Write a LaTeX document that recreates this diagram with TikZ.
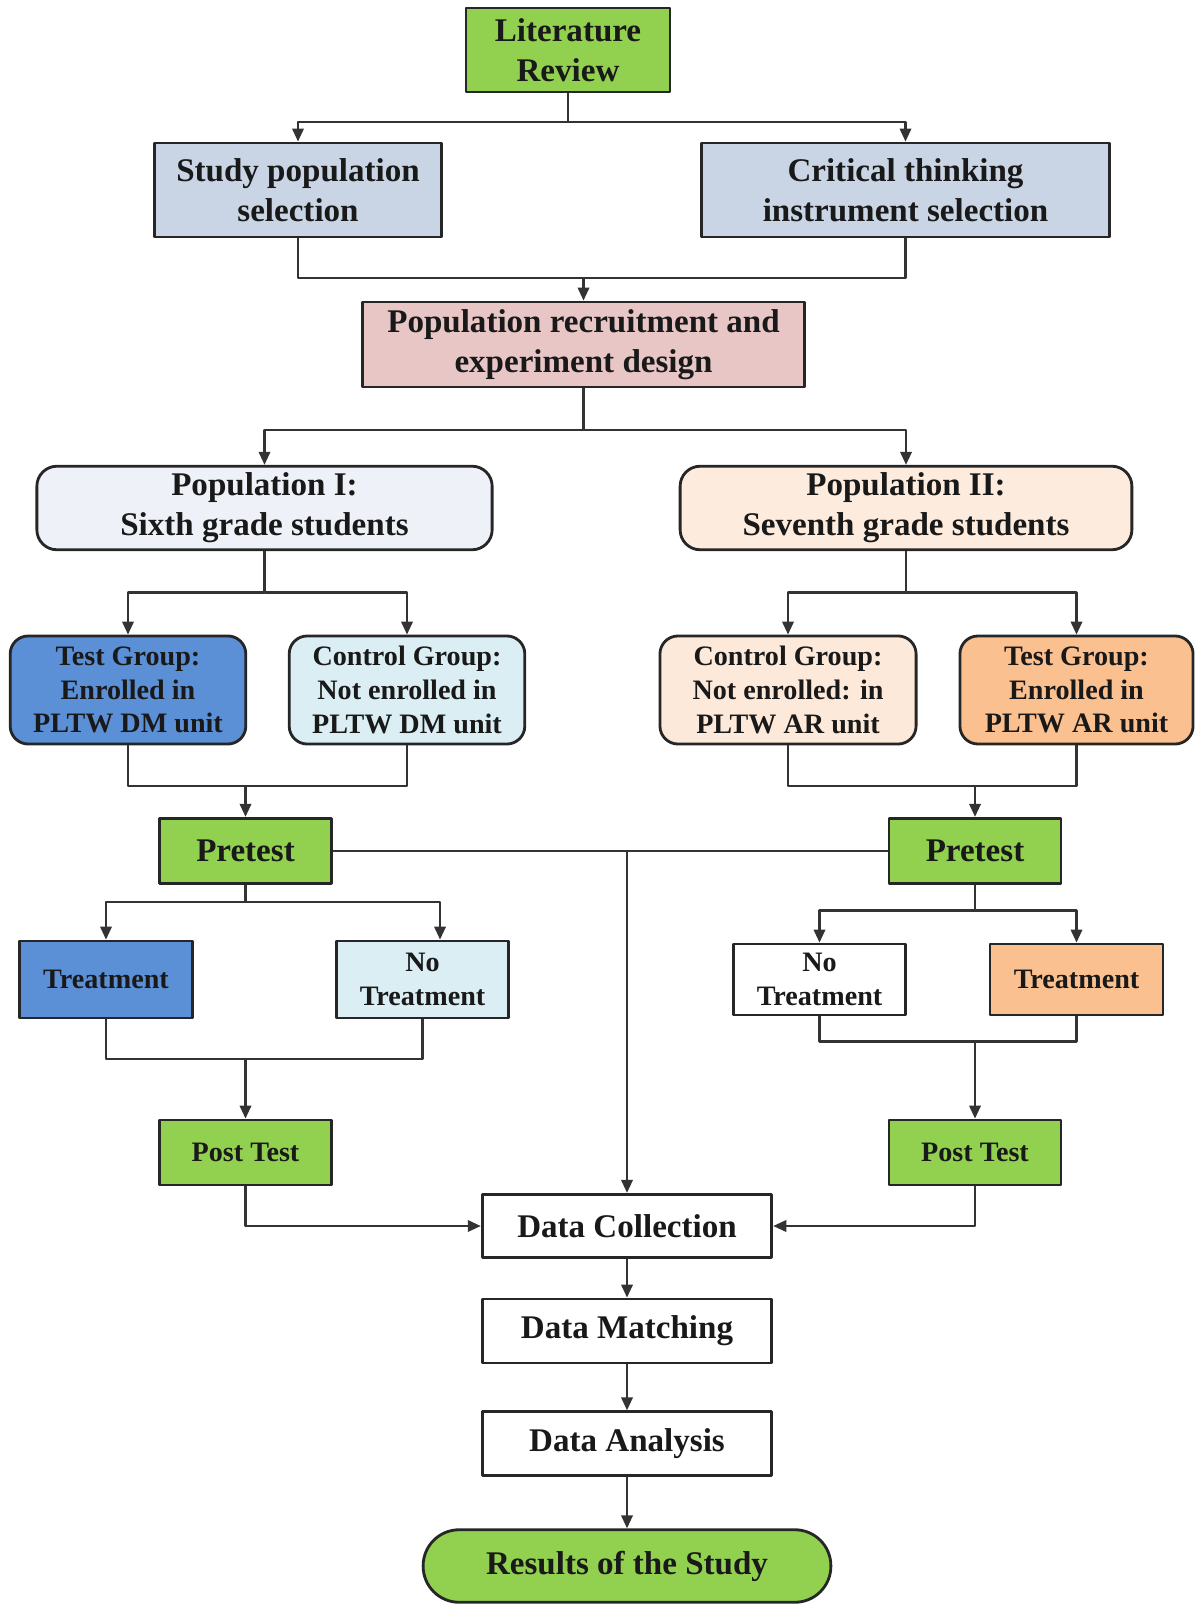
\documentclass[tikz,border=0pt]{standalone}
\usepackage{fontspec}
\setmainfont{Liberation Serif}
\usetikzlibrary{arrows.meta}
\definecolor{litgreen}{RGB}{146,208,80}
\definecolor{selblue}{RGB}{201,213,228}
\definecolor{recpink}{RGB}{232,198,198}
\definecolor{popblue}{RGB}{238,242,248}
\definecolor{poppeach}{RGB}{253,236,222}
\definecolor{dmblue}{RGB}{91,143,214}
\definecolor{dmcyan}{RGB}{218,238,243}
\definecolor{arpeach}{RGB}{253,233,217}
\definecolor{arorange}{RGB}{250,192,143}
\begin{document}
\begin{tikzpicture}[x=0.01cm, y=-0.01cm, >={Triangle[length=1.3mm,width=1.15mm]}, line join=round,
  box/.style={draw=black!85, line width=0.8pt, align=center, inner sep=0pt, text=black!90,
    font=\bfseries\fontsize{9.4}{11.4}\selectfont},
  sbox/.style={box, font=\bfseries\fontsize{8}{9.6}\selectfont},
  link/.style={draw=black!80, line width=0.6pt}]
\useasboundingbox (0,0) rectangle (1195,1604);
\node[box, fill=litgreen, minimum width=2.04cm, minimum height=0.84cm] (lit) at (568,50) {Literature\\Review};
\node[box, fill=selblue, minimum width=2.875cm, minimum height=0.94cm] (studysel) at (298,190) {Study population\\selection};
\node[box, fill=selblue, minimum width=4.07cm, minimum height=0.94cm] (instsel) at (905.5,190) {Critical thinking\\instrument selection};
\node[box, fill=recpink, minimum width=4.41cm, minimum height=0.85cm] (recruit) at (583.5,344.5) {Population recruitment and\\experiment design};
\node[box, fill=popblue, rounded corners=0.2cm, minimum width=4.55cm, minimum height=0.835cm] (popone) at (264.5,508) {Population I:\\Sixth grade students};
\node[box, fill=poppeach, rounded corners=0.2cm, minimum width=4.515cm, minimum height=0.835cm] (poptwo) at (906,508) {Population II:\\Seventh grade students};
\node[sbox, fill=dmblue, rounded corners=0.18cm, minimum width=2.355cm, minimum height=1.08cm] (testdm) at (128,690) {Test Group:\\Enrolled in\\PLTW DM unit};
\node[sbox, fill=dmcyan, rounded corners=0.18cm, minimum width=2.355cm, minimum height=1.08cm] (ctrldm) at (407,690) {Control Group:\\Not enrolled in\\PLTW DM unit};
\node[sbox, fill=arpeach, rounded corners=0.18cm, minimum width=2.56cm, minimum height=1.08cm] (ctrlar) at (788,690) {Control Group:\\Not enrolled: in\\PLTW AR unit};
\node[sbox, fill=arorange, rounded corners=0.18cm, minimum width=2.33cm, minimum height=1.08cm] (testar) at (1076.5,690) {Test Group:\\Enrolled in\\PLTW AR unit};
\node[box, fill=litgreen, minimum width=1.72cm, minimum height=0.655cm] (preone) at (245.5,851) {Pretest};
\node[box, fill=litgreen, minimum width=1.72cm, minimum height=0.655cm] (pretwo) at (975,851) {Pretest};
\node[sbox, fill=dmblue, minimum width=1.725cm, minimum height=0.77cm] (treatone) at (106,979.5) {Treatment};
\node[sbox, fill=dmcyan, minimum width=1.72cm, minimum height=0.77cm] (notreatone) at (422.5,979.5) {No\\Treatment};
\node[sbox, fill=white, minimum width=1.72cm, minimum height=0.71cm] (notreattwo) at (819.5,979.5) {No\\Treatment};
\node[sbox, fill=arorange, minimum width=1.73cm, minimum height=0.71cm] (treattwo) at (1076.5,979.5) {Treatment};
\node[sbox, fill=litgreen, minimum width=1.72cm, minimum height=0.65cm] (postone) at (245.5,1152.5) {Post Test};
\node[sbox, fill=litgreen, minimum width=1.72cm, minimum height=0.65cm] (posttwo) at (975,1152.5) {Post Test};
\node[box, fill=white, minimum width=2.895cm, minimum height=0.635cm] (collect) at (627,1226) {Data Collection};
\node[box, fill=white, minimum width=2.895cm, minimum height=0.64cm] (match) at (627,1331) {Data Matching};
\node[box, fill=white, minimum width=2.895cm, minimum height=0.635cm] (analysis) at (627,1443.5) {Data Analysis};
\node[box, fill=litgreen, rounded corners=0.36cm, minimum width=4.075cm, minimum height=0.725cm] (results) at (627,1566) {Results of the Study};
\coordinate (s1) at (568,122);
\coordinate (m1) at (583.5,278);
\coordinate (s2) at (583.5,430);
\coordinate (s3) at (264.5,592.5);
\coordinate (s4) at (906,592.5);
\coordinate (m2) at (245.5,786);
\coordinate (m3) at (975,786);
\coordinate (s5) at (245.5,902);
\coordinate (s6) at (975,910.5);
\coordinate (m4) at (245.5,1059);
\coordinate (m5) at (975,1041.5);
\coordinate (j) at (627,851);
\draw[link,->] (lit.south) -- (s1) -| (studysel.north);
\draw[link,->] (s1) -| (instsel.north);
\draw[link] (studysel.south) |- (m1) -| (instsel.south);
\draw[link,->] (m1) -- (recruit.north);
\draw[link,->] (recruit.south) -- (s2) -| (popone.north);
\draw[link,->] (s2) -| (poptwo.north);
\draw[link,->] (popone.south) -- (s3) -| (testdm.north);
\draw[link,->] (s3) -| (ctrldm.north);
\draw[link,->] (poptwo.south) -- (s4) -| (ctrlar.north);
\draw[link,->] (s4) -| (testar.north);
\draw[link] (testdm.south) |- (m2) -| (ctrldm.south);
\draw[link,->] (m2) -- (preone.north);
\draw[link] (ctrlar.south) |- (m3) -| (testar.south);
\draw[link,->] (m3) -- (pretwo.north);
\draw[link,->] (preone.south) -- (s5) -| (treatone.north);
\draw[link,->] (s5) -| ([xshift=0.175cm]notreatone.north);
\draw[link,->] (pretwo.south) -- (s6) -| (notreattwo.north);
\draw[link,->] (s6) -| (treattwo.north);
\draw[link] (treatone.south) |- (m4) -| (notreatone.south);
\draw[link,->] (m4) -- (postone.north);
\draw[link] (notreattwo.south) |- (m5) -| (treattwo.south);
\draw[link,->] (m5) -- (posttwo.north);
\draw[link] (preone.east) -- (pretwo.west);
\draw[link,->] (j) -- (collect.north);
\draw[link,->] (postone.south) |- (collect.west);
\draw[link,->] (posttwo.south) |- (collect.east);
\draw[link,->] (collect) -- (match);
\draw[link,->] (match) -- (analysis);
\draw[link,->] (analysis) -- (results);
\end{tikzpicture}
\end{document}
